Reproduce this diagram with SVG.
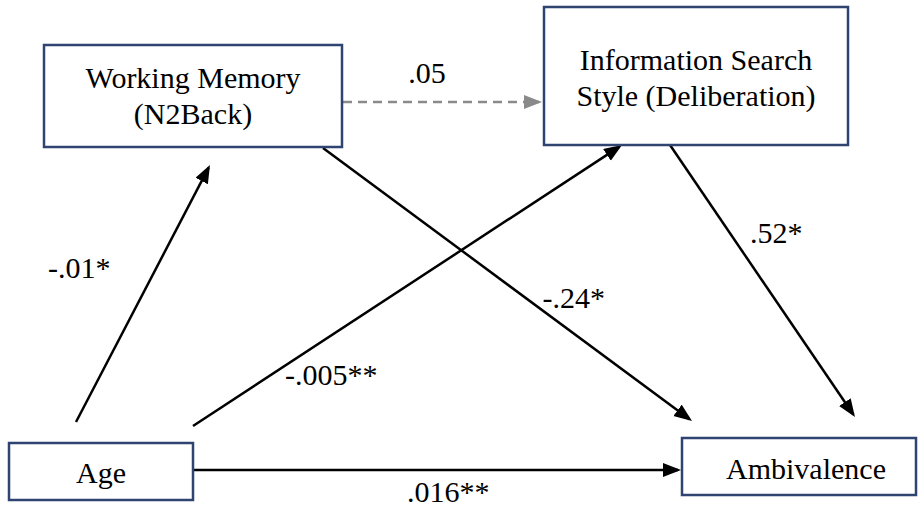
<svg xmlns="http://www.w3.org/2000/svg" width="918" height="509" viewBox="0 0 918 509">
  <style>
    .box { fill: #ffffff; stroke: #2f4470; stroke-width: 2.5; }
    .t { font-family: 'Liberation Serif', 'Times New Roman', serif; font-size: 30px; fill: #000000; }
    .c { text-anchor: middle; }
    .edge { fill: none; stroke: #000000; stroke-width: 2.5; }
    .dash { fill: none; stroke: #8a8a8a; stroke-width: 2.5; stroke-dasharray: 9 6; }
  </style>
  <defs>
    <marker id="ah" markerUnits="userSpaceOnUse" markerWidth="20" markerHeight="16" refX="15" refY="7" orient="auto">
      <path d="M0,0 L18,7 L0,14 z" fill="#000000"/>
    </marker>
    <marker id="ahg" markerUnits="userSpaceOnUse" markerWidth="20" markerHeight="16" refX="15" refY="7" orient="auto">
      <path d="M0,0 L18,7 L0,14 z" fill="#8a8a8a"/>
    </marker>
  </defs>
  <rect width="918" height="509" fill="#ffffff"/>

  <g id="connectors">
    <line class="edge" x1="76" y1="422" x2="208.6" y2="167.7" marker-end="url(#ah)"/>
    <line class="edge" x1="323" y1="148" x2="689.6" y2="419.2" marker-end="url(#ah)"/>
    <line class="edge" x1="193" y1="426" x2="619.5" y2="146.6" marker-end="url(#ah)"/>
    <line class="edge" x1="670" y1="145" x2="853.3" y2="414.5" marker-end="url(#ah)"/>
    <line class="edge" x1="193" y1="470" x2="678" y2="470" marker-end="url(#ah)"/>
    <line class="dash" x1="343" y1="102" x2="539" y2="102" marker-end="url(#ahg)"/>
    <text class="t c" x="427" y="83">.05</text>
    <text class="t" x="48" y="278">-.01*</text>
    <text class="t" x="750" y="243">.52*</text>
    <text class="t" x="605" y="308" text-anchor="end">-.24*</text>
    <text class="t" x="285" y="385">-.005**</text>
    <text class="t" x="407" y="502">.016**</text>
  </g>

  <g id="working-memory">
    <rect class="box" x="44" y="45" width="298" height="102"/>
    <text class="t c" x="193" y="88">Working Memory</text>
    <text class="t c" x="193" y="124">(N2Back)</text>
  </g>

  <g id="information-search">
    <rect class="box" x="544" y="7" width="304" height="138"/>
    <text class="t c" x="696" y="70">Information Search</text>
    <text class="t c" x="696" y="106">Style (Deliberation)</text>
  </g>

  <g id="age">
    <rect class="box" x="9" y="443" width="184" height="57"/>
    <text class="t c" x="101" y="483">Age</text>
  </g>

  <g id="ambivalence">
    <rect class="box" x="682" y="438" width="234" height="57"/>
    <text class="t c" x="806" y="479">Ambivalence</text>
  </g>
</svg>
